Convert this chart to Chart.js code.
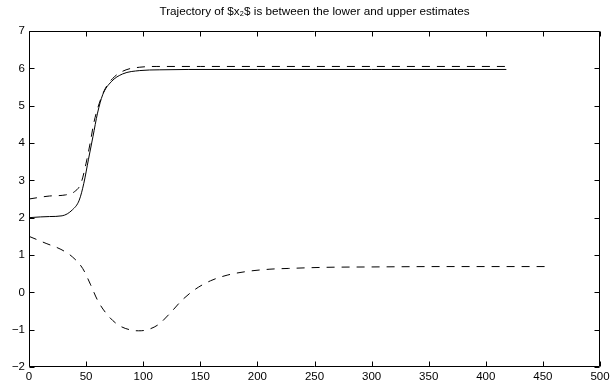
<!DOCTYPE html>
<html>
<head>
<meta charset="utf-8">
<script src="https://cdn.jsdelivr.net/npm/chart.js@4"></script>
<style>
  html, body { margin: 0; padding: 0; background: #fff; }
</style>
</head>
<body>
<canvas id="trajChart" width="615" height="381"></canvas>
<script>
// data
const xTicks = [0, 50, 100, 150, 200, 250, 300, 350, 400, 450, 500];
const yTicks = [-2, -1, 0, 1, 2, 3, 4, 5, 6, 7];

// trajectory x2 (solid)
const solidX = [0, 10, 18, 29, 38, 44, 48, 52, 56, 60, 64.5, 72, 82, 97, 114, 140, 200, 300, 418];
const solidY = [2.0, 2.02, 2.03, 2.05, 2.21, 2.47, 2.92, 3.55, 4.17, 4.8, 5.29, 5.64, 5.85, 5.94, 5.96, 5.97, 5.97, 5.97, 5.97];

// upper estimate (dashed)
const upperX = [0, 18, 32, 40, 45.5, 50, 53.5, 57, 61.5, 67, 75, 85, 97, 112, 150, 250, 418];
const upperY = [2.5, 2.58, 2.61, 2.7, 2.92, 3.46, 3.99, 4.57, 5.06, 5.47, 5.78, 5.96, 6.03, 6.05, 6.05, 6.05, 6.05];

// lower estimate (dashed)
const lowerX = [0, 15, 28, 38, 47, 54, 60, 67.5, 78, 91, 96, 101, 113, 123.5, 134, 145.5, 159, 173.5, 191, 211, 227, 260, 300, 360, 453];
const lowerY = [1.5, 1.31, 1.15, 0.95, 0.64, 0.2, -0.21, -0.56, -0.87, -1.02, -1.03, -1.02, -0.87, -0.56, -0.21, 0.08, 0.31, 0.46, 0.56, 0.62, 0.64, 0.67, 0.68, 0.69, 0.69];

const FONT = "'Liberation Sans', Arial, Helvetica, sans-serif";

function pts(xs, ys) {
  return xs.map((x, i) => ({ x: x, y: ys[i] }));
}

function lineSet(data, dash) {
  return {
    data: data,
    borderColor: "#000",
    borderWidth: 1,
    borderDash: dash,
    pointRadius: 0,
    fill: false,
    cubicInterpolationMode: "monotone",
  };
}

// matlab-style box with ticks pointing inward on all four sides
const boxTicks = {
  id: "boxTicks",
  afterDraw(chart) {
    const { ctx, chartArea: a, scales } = chart;
    const L = Math.round(a.left) + 0.5;
    const R = Math.round(a.right) - 0.5;
    const T = Math.round(a.top) + 0.5;
    const B = Math.round(a.bottom) - 0.5;
    ctx.save();
    ctx.strokeStyle = "#000";
    ctx.lineWidth = 1;
    ctx.beginPath();
    xTicks.forEach((v) => {
      const px = Math.round(scales.x.getPixelForValue(v)) + 0.5;
      ctx.moveTo(px, B); ctx.lineTo(px, B - 5);
      ctx.moveTo(px, T); ctx.lineTo(px, T + 5);
    });
    yTicks.forEach((v) => {
      const py = Math.round(scales.y.getPixelForValue(v)) + 0.5;
      ctx.moveTo(L, py); ctx.lineTo(L + 5, py);
      ctx.moveTo(R, py); ctx.lineTo(R - 5, py);
    });
    ctx.rect(L, T, R - L, B - T);
    ctx.stroke();
    ctx.restore();
  },
};

const minus = (v) => String(v).replace("-", "\u2212");

new Chart(document.getElementById("trajChart"), {
  type: "line",
  data: {
    datasets: [
      lineSet(pts(solidX, solidY), []),
      lineSet(pts(upperX, upperY), [8, 7]),
      lineSet(pts(lowerX, lowerY), [8, 7]),
    ],
  },
  options: {
    responsive: false,
    devicePixelRatio: 1,
    animation: false,
    layout: { padding: { left: 0, right: 15, top: 0, bottom: 0 } },
    plugins: {
      legend: { display: false },
      tooltip: { enabled: false },
      title: {
        display: true,
        fullSize: false, // centre over the plot box, not the canvas
        text: "Trajectory of $x\u2082$ is between the lower and upper estimates",
        color: "#000",
        font: { family: FONT, size: 11.7, weight: "normal", lineHeight: 1.2 },
        padding: { top: 4.5, bottom: 12.46 },
      },
    },
    scales: {
      x: {
        type: "linear",
        min: 0,
        max: 500,
        afterBuildTicks: (s) => { s.ticks = xTicks.map((v) => ({ value: v })); },
        afterFit: (s) => { s.height = 14; },
        grid: { display: false, drawTicks: false },
        border: { display: false },
        ticks: {
          color: "#000",
          padding: 3,
          maxRotation: 0,
          font: { family: FONT, size: 11.5 },
          callback: minus,
        },
      },
      y: {
        type: "linear",
        min: -2,
        max: 7,
        afterBuildTicks: (s) => { s.ticks = yTicks.map((v) => ({ value: v })); },
        afterFit: (s) => { s.width = 29; },
        grid: { display: false, drawTicks: false },
        border: { display: false },
        ticks: {
          color: "#000",
          padding: 4,
          font: { family: FONT, size: 11.5 },
          callback: minus,
        },
      },
    },
  },
  plugins: [boxTicks],
});
</script>
</body>
</html>
